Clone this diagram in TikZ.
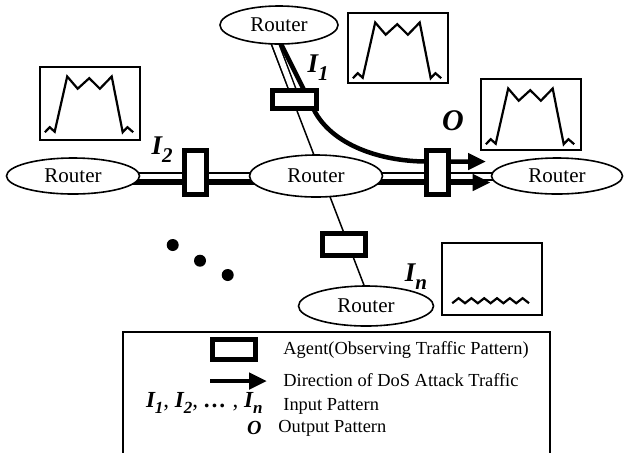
\documentclass[tikz,border=0pt]{standalone}
\usepackage{fontspec}
\setmainfont{Liberation Serif}
\usetikzlibrary{arrows.meta,shapes.geometric,calc,backgrounds}

% bold italic pattern label with lowered index
\newcommand\patlbl[3][10.5]{\textbf{\textit{#2\raisebox{-0.3em}{\fontsize{#1}{#1}\selectfont #3}}}}

\begin{document}
\begin{tikzpicture}[x=0.5pt,y=-0.5pt,
  router/.style={draw, ellipse, line width=0.8pt, fill=white, inner sep=0pt, font=\fontsize{10.5}{12}\selectfont},
  agent/.style={draw, rectangle, line width=2.5pt, fill=white, inner sep=0pt},
  pattern/.style={draw, rectangle, line width=0.8pt, minimum width=50pt, inner sep=0pt},
  link/.style={line width=0.75pt},
  duct/.style={draw=black, double=white, line width=0.75pt, double distance=2.75pt},
  flow/.style={line width=2.25pt},
  wave/.style={line width=1.1pt, line join=miter},
  lbl/.style={font=\fontsize{13.5}{15}\selectfont, inner sep=0pt},
  legtext/.style={font=\fontsize{9.2}{11}\selectfont, anchor=west, inner sep=0pt},
  tip/.style={-{Triangle[length=9pt,width=8pt]}},
  pics/plateau/.style={code={
    \draw[wave] (5.7,66) -- (10.5,61) -- (15.5,65.5) -- (28,10.3) -- (38.5,22.5) -- (50,12)
      -- (60.7,22.5) -- (72.5,10.3) -- (83.5,66) -- (88.2,61) -- (94,66);
  }}
]
\useasboundingbox (0,0) rectangle (624,452);

% routers
\node[router, minimum width=59pt, minimum height=19pt] (rTop) at (279,25) {Router};
\node[router, minimum width=66.5pt, minimum height=18pt] (rLeft) at (73,176) {Router};
\node[router, minimum width=66.5pt, minimum height=21pt] (rMid) at (316,176) {Router};
\node[router, minimum width=65.5pt, minimum height=18pt] (rRight) at (557,176) {Router};
\node[router, minimum width=67.5pt, minimum height=20pt] (rBot) at (366,306) {Router};

% agents
\node[agent, minimum width=22pt, minimum height=9pt] (aI1) at (294,99) {};
\node[agent, minimum width=11pt, minimum height=22pt] (aI2) at (195,172) {};
\node[agent, minimum width=11pt, minimum height=22pt] (aO) at (437,172.5) {};
\node[agent, minimum width=21.5pt, minimum height=11pt] (aIn) at (343.5,244) {};

% links and traffic
\begin{scope}[on background layer]
\draw[link] ($(rTop)+(-15,0)$) -- ($(rBot)+(6,0)$);
\draw[duct] ($(rTop)+(-11,0)$) -- ($(aI1)+(2,0)$);
\draw[duct] ($(rLeft)+(0,0.5)$) -- ($(rMid)+(0,0.5)$);
\draw[duct] ($(rMid)+(0,0.5)$) -- ($(rRight)+(0,0.5)$);
\draw[flow, tip] ($(rLeft)+(0,6.5)$) -- ($(rRight.west)+(0,6.5)$);
\draw[flow, tip] ($(rTop)+(-7.5,0)$) -- ($(aI1)+(20,11)$)
  .. controls ($(aI1)+(38,46)$) and ($(aO)+(-57,-11.5)$) .. ($(aO)+(-12,-11)$)
  -- ($(aO)+(49,-11)$);
\end{scope}

% observed patterns
\node[pattern, minimum height=35pt] (pI1) at (398,48) {};
\node[pattern, minimum height=36.5pt] (pI2) at (90,103.5) {};
\node[pattern, minimum height=35.5pt] (pO) at (531,114.5) {};
\node[pattern, minimum height=36pt] (pIn) at (492,279) {};
\pic at (pI1.north west) {plateau};
\pic at (pI2.north west) {plateau};
\pic at (pO.north west) {plateau};
\draw[wave] ($(pIn.north west)+(11,61)$) \foreach \k in {1,...,6} {-- ++(6.4,-5) -- ++(6.4,5)};

\node[lbl] (lI1) at (318,68) {\patlbl{I}{1}};
\node[lbl] (lI2) at (162,150) {\patlbl{I}{2}};
\node[lbl, font=\fontsize{15}{16}\selectfont] (lO) at (453,121) {\textbf{\textit{O}}};
\node[lbl] (lIn) at (416,277) {\patlbl{I}{n}};

% ellipsis dots
\foreach \p in {(172.7,245),(200,260.7),(227.7,275)}
  \fill \p circle (6);

% legend
\draw[link] (123,460) |- (550,332) -- (550,460);
\node[agent, minimum width=21.5pt, minimum height=10pt] (kAgent) at (234,349.5) {};
\coordinate (kTail) at (210,381);
\coordinate (kHead) at (267,381);
\draw[flow, tip] (kTail) -- (kHead);
\node[lbl, anchor=east, font=\fontsize{11.5}{12}\selectfont] (kIn) at (263,403)
  {\patlbl[8.5]{I}{1}, \patlbl[8.5]{I}{2}, \textbf{\textit{…}} , \patlbl[8.5]{I}{n}};
\node[lbl, anchor=east, font=\fontsize{10}{11}\selectfont] (kO) at (262,428) {\textbf{\textit{O}}};
\node[legtext] (tAgent) at (283,350) {Agent(Observing Traffic Pattern)};
\node[legtext] (tDir) at (283,380) {Direction of DoS Attack Traffic};
\node[legtext] (tIn) at (283,406) {Input Pattern};
\node[legtext] (tOut) at (278,428) {Output Pattern};
\end{tikzpicture}
\end{document}
